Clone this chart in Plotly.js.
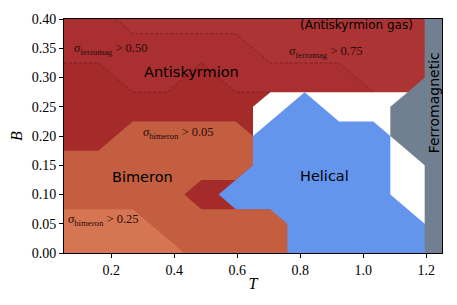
<!DOCTYPE html>
<html>
<head>
<meta charset="utf-8">
<script src="https://cdn.plot.ly/plotly-3.0.1.min.js"></script>
<style>
html,body{margin:0;padding:0;background:#fff;}
#chart{width:457px;height:305px;}
</style>
</head>
<body>
<div id="chart"></div>
<script>
// Phase regions (temperature T, field B)
var antiskyrmionT = [0.05, 0.05, 1.25, 1.25, 0.05];
var antiskyrmionB = [0.00, 0.40, 0.40, 0.00, 0.00];

var ferro50T = [0.05, 0.05, 0.159, 0.268, 0.377, 0.486, 0.595, 0.705, 0.75, 1.25, 1.25];
var ferro50B = [0.40, 0.325, 0.325, 0.275, 0.275, 0.325, 0.275, 0.275, 0.25, 0.25, 0.40];

var ferro75T = [0.214, 0.268, 0.595, 0.705, 0.923, 1.032, 1.06, 1.25, 1.25];
var ferro75B = [0.40, 0.375, 0.375, 0.325, 0.325, 0.275, 0.25, 0.25, 0.40];

var bimeronT = [0.05, 0.05, 0.159, 0.268, 0.595, 0.650, 0.650, 0.595, 0.486, 0.432, 0.486, 0.595, 0.80, 0.80];
var bimeronB = [0.00, 0.175, 0.175, 0.225, 0.225, 0.20, 0.15, 0.125, 0.125, 0.10, 0.075, 0.075, 0.075, 0.00];

var bimeron25T = [0.05, 0.05, 0.268, 0.432];
var bimeron25B = [0.00, 0.075, 0.075, 0.00];

var noPhaseT = [0.650, 0.650, 0.705, 1.25, 1.25, 0.90, 0.90];
var noPhaseB = [0.20, 0.25, 0.275, 0.275, 0.00, 0.00, 0.15];

var helicalT = [0.759, 0.759, 0.705, 0.595, 0.541, 0.650, 0.650, 0.814, 0.923, 1.032, 1.086, 1.086, 1.195, 1.22, 1.22];
var helicalB = [0.00, 0.05, 0.075, 0.075, 0.10, 0.15, 0.20, 0.275, 0.225, 0.225, 0.20, 0.10, 0.05, 0.05, 0.00];

var ferromagT = [1.195, 1.195, 1.141, 1.086, 1.086, 1.195, 1.195, 1.25, 1.25];
var ferromagB = [0.40, 0.30, 0.275, 0.25, 0.20, 0.15, 0.00, 0.00, 0.40];

var line50T = [0.05, 0.159, 0.268, 0.377, 0.486, 0.595, 0.705];
var line50B = [0.325, 0.325, 0.275, 0.275, 0.325, 0.275, 0.275];
var line75T = [0.214, 0.268, 0.595, 0.705, 0.923, 1.032];
var line75B = [0.40, 0.375, 0.375, 0.325, 0.325, 0.275];

var xTickVals = [0.2, 0.4, 0.6, 0.8, 1.0, 1.2];
var xTickText = ['0.2', '0.4', '0.6', '0.8', '1.0', '1.2'];
var yTickVals = [0.00, 0.05, 0.10, 0.15, 0.20, 0.25, 0.30, 0.35, 0.40];
var yTickText = ['0.00', '0.05', '0.10', '0.15', '0.20', '0.25', '0.30', '0.35', '0.40'];

function region(xs, ys, color) {
  return {x: xs, y: ys, type: 'scatter', mode: 'lines', fill: 'toself',
          fillcolor: color, line: {width: 0, color: color}, hoverinfo: 'skip', showlegend: false};
}
function dashed(xs, ys) {
  return {x: xs, y: ys, type: 'scatter', mode: 'lines',
          line: {width: 0.7, color: 'rgba(100,15,15,0.75)', dash: '3px,2px'}, hoverinfo: 'skip', showlegend: false};
}

var traces = [
  region(antiskyrmionT, antiskyrmionB, '#a52a2a'),
  region(ferro50T, ferro50B, '#a92f30'),
  region(ferro75T, ferro75B, '#ad3435'),
  region(bimeronT, bimeronB, '#c45e40'),
  region(bimeron25T, bimeron25B, '#d67551'),
  region(noPhaseT, noPhaseB, '#ffffff'),
  region(helicalT, helicalB, '#6495ed'),
  region(ferromagT, ferromagB, '#708090'),
  dashed(line50T, line50B),
  dashed(line75T, line75B)
];

var sans = 'DejaVu Sans, sans-serif';
var serif = 'Liberation Serif, serif';
function label(x, y, text, size, extra) {
  var a = {x: x, y: y, xref: 'x', yref: 'y', text: text, showarrow: false,
           font: {family: sans, size: size, color: '#000'}, xanchor: 'center', yanchor: 'middle'};
  for (var k in extra) a[k] = extra[k];
  return a;
}
function sigma(x, y, name, val) {
  return {x: x, y: y, xref: 'x', yref: 'y', showarrow: false,
          text: '<i>σ</i><sub>' + name + '</sub> &gt; ' + val,
          font: {family: serif, size: 12.5, color: '#2a0c0c'}, xanchor: 'center', yanchor: 'middle'};
}

var layout = {
  width: 457, height: 305,
  margin: {l: 64, r: 15, t: 19, b: 52, pad: 0},
  paper_bgcolor: '#ffffff', plot_bgcolor: '#ffffff',
  showlegend: false,
  xaxis: {
    range: [0.05, 1.25], tickvals: xTickVals, ticktext: xTickText,
    showgrid: false, zeroline: false, showline: true, mirror: true,
    linecolor: '#000', linewidth: 1, ticks: 'outside', ticklen: 4, tickwidth: 1, tickcolor: '#000',
    tickfont: {family: serif, size: 14, color: '#000'},
    title: {text: '<i>T</i>', font: {family: serif, size: 16, color: '#000'}, standoff: 1}
  },
  yaxis: {
    range: [0, 0.4], tickvals: yTickVals, ticktext: yTickText,
    showgrid: false, zeroline: false, showline: true, mirror: true,
    linecolor: '#000', linewidth: 1, ticks: 'outside', ticklen: 4, tickwidth: 1, tickcolor: '#000',
    tickfont: {family: serif, size: 14, color: '#000'},
    title: {text: '<i>B</i>', font: {family: serif, size: 16, color: '#000'}, standoff: 5}
  },
  annotations: [
    label(0.454, 0.31, 'Antiskyrmion', 14.5),
    label(0.98, 0.389, '(Antiskyrmion gas)', 12),
    label(0.298, 0.13, 'Bimeron', 14.5),
    label(0.878, 0.131, 'Helical', 14.5),
    label(1.225, 0.256, 'Ferromagnetic', 14, {textangle: -90}),
    sigma(0.198, 0.349, 'ferromag', '0.50'),
    sigma(0.879, 0.344, 'ferromag', '0.75'),
    sigma(0.415, 0.205, 'bimeron', '0.05'),
    sigma(0.174, 0.056, 'bimeron', '0.25')
  ]
};

Plotly.newPlot('chart', traces, layout, {staticPlot: true, displayModeBar: false});
</script>
</body>
</html>
